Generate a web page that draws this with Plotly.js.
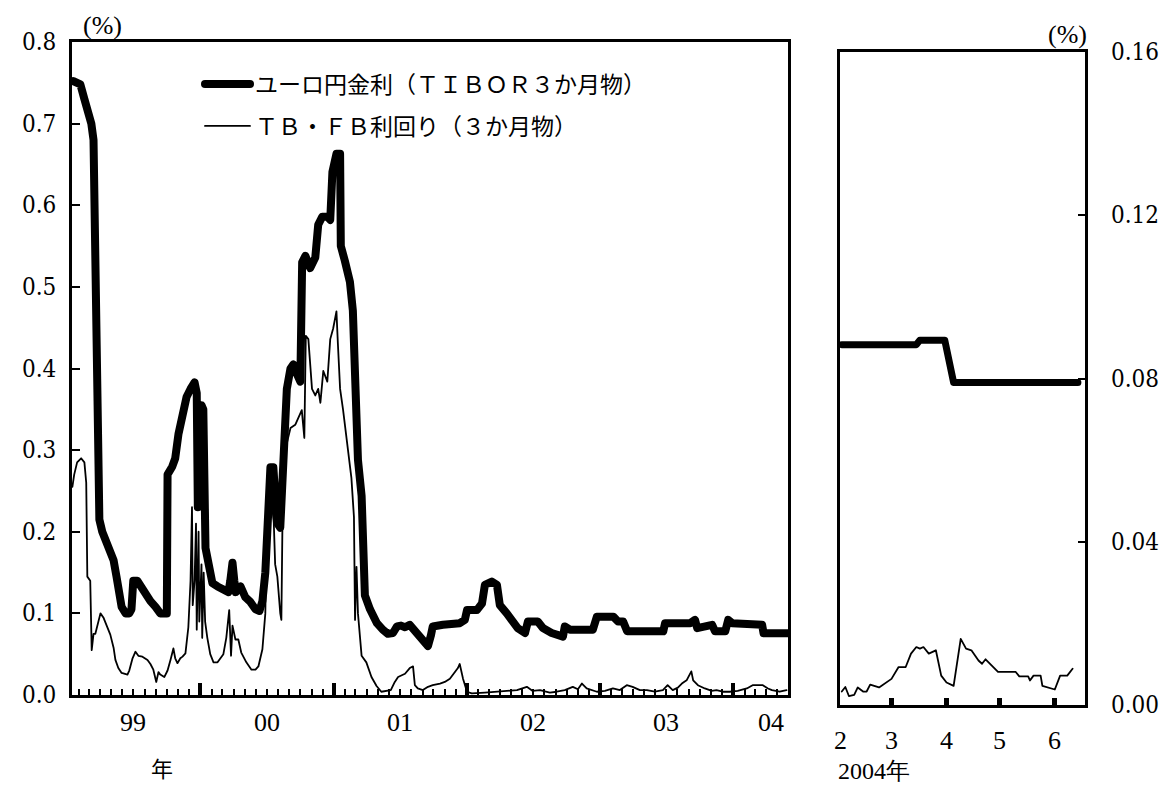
<!DOCTYPE html>
<html>
<head>
<meta charset="utf-8">
<script src="https://cdn.plot.ly/plotly-3.0.1.min.js"></script>
<style>
  html, body { margin: 0; padding: 0; background: #fff; }
  #chart { width: 1165px; height: 785px; }
  path.js-line { stroke-linejoin: round; stroke-linecap: round; }
</style>
</head>
<body>
<div id="chart"></div>
<script>
// ---------------- data ----------------
const seriesNames = ['ユーロ円金利（ＴＩＢＯＲ３か月物）', 'ＴＢ・ＦＢ利回り（３か月物）'];

// Left panel: Euro-yen TIBOR 3M (%)
const tiborDates = ['1999-01-18','1999-02-06','1999-02-17','1999-02-28','1999-03-08','1999-03-14','1999-03-17','1999-03-19','1999-03-22','1999-03-25','1999-03-30','1999-04-07','1999-04-18','1999-04-29','1999-05-08','1999-05-16','1999-05-21','1999-05-30','1999-06-10','1999-06-20','1999-06-26','1999-07-01','1999-07-12','1999-07-21','1999-08-03','1999-08-17','1999-08-31','1999-09-13','1999-10-01','1999-10-03','1999-10-16','1999-10-24','1999-11-02','1999-11-13','1999-11-24','1999-12-05','1999-12-16','1999-12-22','1999-12-25','1999-12-29','2000-01-04','2000-01-09','2000-01-15','2000-01-23','2000-02-03','2000-02-17','2000-03-04','2000-03-18','2000-03-23','2000-03-29','2000-04-03','2000-04-07','2000-04-20','2000-05-03','2000-05-17','2000-05-31','2000-06-11','2000-06-19','2000-06-27','2000-07-03','2000-07-11','2000-07-19','2000-07-29','2000-08-07','2000-08-15','2000-08-25','2000-09-04','2000-09-12','2000-09-23','2000-10-01','2000-10-06','2000-10-15','2000-10-28','2000-11-11','2000-11-19','2000-11-30','2000-12-14','2000-12-22','2000-12-28','2001-01-08','2001-01-18','2001-01-20','2001-01-31','2001-02-14','2001-02-22','2001-02-28','2001-03-08','2001-03-18','2001-03-27','2001-04-10','2001-04-29','2001-05-15','2001-05-29','2001-06-12','2001-06-23','2001-07-04','2001-07-15','2001-07-28','2001-08-08','2001-08-22','2001-09-05','2001-09-16','2001-09-24','2001-09-29','2001-10-27','2001-12-12','2001-12-26','2002-01-01','2002-01-28','2002-02-11','2002-02-19','2002-03-10','2002-03-24','2002-04-01','2002-04-20','2002-05-04','2002-05-20','2002-06-09','2002-06-17','2002-07-14','2002-07-28','2002-08-21','2002-09-07','2002-09-21','2002-09-26','2002-10-10','2002-12-12','2002-12-23','2003-02-06','2003-02-19','2003-03-05','2003-03-16','2003-06-23','2003-06-28','2003-09-05','2003-09-18','2003-09-24','2003-11-04','2003-11-12','2003-12-10','2003-12-18','2003-12-29','2004-03-20','2004-03-24','2004-05-30'];
const tiborValues = [0.752,0.748,0.73,0.715,0.70,0.68,0.60,0.45,0.33,0.25,0.215,0.20,0.185,0.175,0.165,0.145,0.125,0.108,0.10,0.10,0.105,0.14,0.14,0.133,0.123,0.115,0.108,0.10,0.10,0.27,0.28,0.29,0.32,0.345,0.365,0.375,0.383,0.37,0.23,0.24,0.355,0.35,0.18,0.16,0.137,0.133,0.128,0.126,0.14,0.162,0.14,0.126,0.133,0.12,0.114,0.105,0.103,0.115,0.15,0.23,0.279,0.279,0.211,0.205,0.30,0.375,0.40,0.405,0.392,0.384,0.53,0.538,0.523,0.536,0.576,0.586,0.586,0.582,0.641,0.663,0.663,0.55,0.532,0.506,0.471,0.397,0.288,0.244,0.122,0.105,0.088,0.08,0.075,0.076,0.084,0.085,0.083,0.086,0.08,0.072,0.063,0.06,0.073,0.084,0.086,0.088,0.092,0.104,0.104,0.112,0.135,0.139,0.135,0.11,0.10,0.09,0.082,0.076,0.09,0.09,0.082,0.076,0.0735,0.0715,0.084,0.08,0.08,0.096,0.096,0.09,0.09,0.078,0.078,0.088,0.088,0.092,0.082,0.086,0.078,0.078,0.092,0.088,0.086,0.0756,0.0756];

// Left panel: TB/FB yield 3M (%)
const tbDates = ['1999-01-15','1999-01-20','1999-01-28','1999-02-08','1999-02-17','1999-02-22','1999-02-25','1999-03-05','1999-03-09','1999-03-14','1999-03-19','1999-04-02','1999-04-10','1999-04-21','1999-04-29','1999-05-08','1999-05-13','1999-05-21','1999-05-30','1999-06-15','1999-06-20','1999-06-29','1999-07-07','1999-07-15','1999-07-26','1999-08-09','1999-08-17','1999-08-25','1999-09-02','1999-09-08','1999-09-13','1999-09-24','1999-10-03','1999-10-11','1999-10-19','1999-10-24','1999-10-30','1999-11-07','1999-11-13','1999-11-21','1999-11-29','1999-12-05','1999-12-09','1999-12-11','1999-12-16','1999-12-20','1999-12-22','1999-12-27','1999-12-29','2000-01-04','2000-01-06','2000-01-10','2000-01-14','2000-01-20','2000-01-28','2000-02-06','2000-02-17','2000-02-25','2000-03-04','2000-03-12','2000-03-20','2000-03-25','2000-03-29','2000-04-06','2000-04-14','2000-04-22','2000-05-06','2000-05-20','2000-05-31','2000-06-08','2000-06-19','2000-06-27','2000-07-01','2000-07-11','2000-07-16','2000-07-20','2000-07-24','2000-07-30','2000-08-07','2000-08-10','2000-08-15','2000-08-25','2000-09-04','2000-09-17','2000-09-26','2000-10-05','2000-10-12','2000-10-16','2000-10-23','2000-11-02','2000-11-11','2000-11-19','2000-11-25','2000-12-03','2000-12-14','2000-12-22','2000-12-30','2001-01-08','2001-01-12','2001-01-18','2001-01-26','2001-01-31','2001-02-09','2001-02-18','2001-02-25','2001-02-28','2001-03-04','2001-03-08','2001-03-18','2001-03-31','2001-04-14','2001-04-28','2001-05-11','2001-05-26','2001-06-06','2001-06-17','2001-06-26','2001-07-15','2001-07-28','2001-08-06','2001-08-11','2001-08-19','2001-09-02','2001-09-16','2001-09-29','2001-10-19','2001-11-01','2001-11-15','2001-11-23','2001-12-07','2001-12-12','2001-12-21','2002-01-01','2002-01-14','2002-02-19','2002-04-01','2002-04-28','2002-05-18','2002-06-14','2002-06-30','2002-07-20','2002-08-16','2002-09-04','2002-09-26','2002-10-18','2002-11-01','2002-11-12','2002-11-25','2002-12-23','2003-01-14','2003-02-05','2003-02-24','2003-03-15','2003-03-31','2003-04-20','2003-05-09','2003-05-31','2003-06-22','2003-07-05','2003-07-19','2003-08-02','2003-08-13','2003-08-26','2003-09-08','2003-09-13','2003-09-26','2003-10-15','2003-11-03','2003-11-16','2003-12-03','2003-12-22','2004-01-13','2004-02-07','2004-02-23','2004-03-22','2004-04-05','2004-04-16','2004-05-07','2004-05-26'];
const tbValues = [0.255,0.27,0.285,0.29,0.285,0.26,0.145,0.14,0.055,0.075,0.075,0.10,0.095,0.082,0.074,0.058,0.043,0.033,0.027,0.025,0.03,0.045,0.053,0.048,0.047,0.043,0.038,0.031,0.016,0.028,0.025,0.022,0.03,0.043,0.057,0.045,0.039,0.045,0.047,0.051,0.083,0.14,0.23,0.11,0.14,0.21,0.08,0.20,0.09,0.16,0.07,0.15,0.09,0.07,0.05,0.04,0.04,0.045,0.05,0.07,0.104,0.048,0.085,0.068,0.068,0.052,0.04,0.031,0.031,0.035,0.056,0.10,0.207,0.248,0.23,0.214,0.16,0.145,0.10,0.092,0.29,0.31,0.327,0.331,0.34,0.349,0.315,0.44,0.436,0.375,0.367,0.375,0.358,0.397,0.384,0.436,0.449,0.47,0.43,0.375,0.35,0.331,0.297,0.266,0.218,0.092,0.157,0.10,0.048,0.04,0.022,0.011,0.004,0.005,0.006,0.016,0.022,0.026,0.033,0.035,0.012,0.008,0.006,0.01,0.012,0.014,0.016,0.02,0.025,0.033,0.038,0.02,0.004,0.002,0.003,0.004,0.005,0.006,0.01,0.005,0.006,0.003,0.004,0.006,0.01,0.007,0.014,0.008,0.004,0.005,0.008,0.006,0.012,0.01,0.006,0.006,0.004,0.006,0.012,0.006,0.009,0.014,0.018,0.029,0.018,0.012,0.008,0.005,0.006,0.004,0.004,0.005,0.008,0.012,0.012,0.008,0.006,0.004,0.006];

// Right panel (Feb-Jun 2004)
const tibor04Dates = ['2004-02-02','2004-03-15','2004-03-17','2004-03-31','2004-04-05','2004-06-14'];
const tibor04Values = [0.0883,0.0883,0.0894,0.0894,0.0790,0.0790];
const tb04Dates = ['2004-02-02','2004-02-04','2004-02-06','2004-02-09','2004-02-11','2004-02-14','2004-02-16','2004-02-18','2004-02-23','2004-02-27','2004-03-01','2004-03-05','2004-03-09','2004-03-12','2004-03-15','2004-03-17','2004-03-19','2004-03-22','2004-03-26','2004-03-29','2004-04-01','2004-04-05','2004-04-07','2004-04-09','2004-04-12','2004-04-15','2004-04-19','2004-04-21','2004-04-23','2004-04-27','2004-04-30','2004-05-10','2004-05-12','2004-05-17','2004-05-18','2004-05-20','2004-05-24','2004-05-25','2004-05-28','2004-06-01','2004-06-04','2004-06-08','2004-06-11'];
const tb04Values = [0.0033,0.0044,0.0022,0.0025,0.0043,0.0033,0.0033,0.005,0.0043,0.0055,0.0064,0.0093,0.0093,0.0126,0.0142,0.0138,0.0142,0.0126,0.0134,0.0072,0.0055,0.0047,0.0105,0.0162,0.0138,0.0134,0.0109,0.0101,0.0112,0.0093,0.0081,0.0081,0.007,0.007,0.006,0.0072,0.0072,0.0047,0.0043,0.0038,0.0072,0.0072,0.0089];

// Axis tick values / labels
const leftYTicks = [0, 0.1, 0.2, 0.3, 0.4, 0.5, 0.6, 0.7, 0.8];
const leftYLabels = ['0.0','0.1','0.2','0.3','0.4','0.5','0.6','0.7','0.8'];
const rightYTicks = [0, 0.04, 0.08, 0.12, 0.16];
const rightYLabels = ['0.00','0.04','0.08','0.12','0.16'];
const yearLabelDates = ['1999-07-01','2000-07-01','2001-07-01','2002-07-01','2003-07-01','2004-04-14'];
const yearLabels = ['99','00','01','02','03','04'];
const monthTickDates = ['2004-02-01','2004-03-01','2004-04-01','2004-05-01','2004-06-01'];
const monthLabels = ['2','3','4','5','6'];
const leftRange = ['1999-01-14','2004-05-30'];
const rightRange = ['2004-02-01','2004-06-18'];

// ---------------- chart ----------------
const W = 1165, H = 785;
const px = v => v / W;
const py = v => 1 - v / H;

const SERIF_NUM = 'DejaVu Serif Condensed';
const SERIF = 'Liberation Serif';
const CJK = 'Noto Sans CJK JP';

const traces = [
  {x: tiborDates, y: tiborValues, xaxis: 'x', yaxis: 'y', type: 'scatter', mode: 'lines',
   name: seriesNames[0], legend: 'legend', line: {color: '#000', width: 8}, hoverinfo: 'skip'},
  {x: tbDates, y: tbValues, xaxis: 'x', yaxis: 'y', type: 'scatter', mode: 'lines',
   name: seriesNames[1], legend: 'legend2', line: {color: '#000', width: 1.8}, hoverinfo: 'skip'},
  {x: tibor04Dates, y: tibor04Values, xaxis: 'x2', yaxis: 'y2', type: 'scatter', mode: 'lines',
   name: seriesNames[0], showlegend: false, line: {color: '#000', width: 7}, hoverinfo: 'skip'},
  {x: tb04Dates, y: tb04Values, xaxis: 'x2', yaxis: 'y2', type: 'scatter', mode: 'lines',
   name: seriesNames[1], showlegend: false, line: {color: '#000', width: 1.8}, hoverinfo: 'skip'}
];

function frame(extra) {
  return Object.assign({showline: true, linecolor: '#000', linewidth: 3, mirror: true,
                        showgrid: false, zeroline: false, showticklabels: false}, extra);
}

// tick labels drawn as annotations placed through the axes' own scales
function label(text, xref, x, yref, y, xanchor, family, size) {
  return {text: text, xref: xref, x: x, yref: yref, y: y, showarrow: false,
          xanchor: xanchor, yanchor: 'middle', font: {family: family, size: size, color: '#000'}};
}
const tickAnnotations = []
  .concat(leftYTicks.map((v, i) => label(leftYLabels[i], 'paper', px(58), 'y', v, 'right', SERIF_NUM, 24)))
  .concat(rightYTicks.map((v, i) => label(rightYLabels[i], 'paper', px(1109), 'y2', v, 'left', SERIF_NUM, 24)))
  .concat(yearLabelDates.map((d, i) => label(yearLabels[i], 'x', d, 'paper', py(722), 'center', SERIF, 26)))
  .concat(monthTickDates.map((d, i) => label(monthLabels[i], 'x2', d, 'paper', py(740), 'center', SERIF, 26)));

const layout = {
  width: W, height: H,
  margin: {l: 0, r: 0, t: 0, b: 0},
  paper_bgcolor: '#fff', plot_bgcolor: '#fff',
  font: {family: SERIF, size: 24, color: '#000'},
  showlegend: true,
  xaxis: frame({
    domain: [px(72), px(788)], anchor: 'y', type: 'date', range: leftRange,
    tickmode: 'linear', tick0: '2000-01-01', dtick: 'M12',
    ticks: 'inside', ticklen: 12, tickwidth: 4, tickcolor: '#000',
    minor: {ticks: 'inside', dtick: 'M1', tick0: '2000-01-01', ticklen: 6, tickwidth: 2, tickcolor: '#000', showgrid: false}
  }),
  yaxis: frame({
    domain: [1 - 695 / H, 1 - 42 / H], anchor: 'x', range: [0, 0.8],
    tickmode: 'array', tickvals: leftYTicks,
    ticks: 'inside', ticklen: 8, tickwidth: 2, tickcolor: '#000'
  }),
  xaxis2: frame({
    domain: [px(840), px(1085)], anchor: 'y2', type: 'date', range: rightRange,
    tickmode: 'array', tickvals: monthTickDates,
    ticks: 'inside', ticklen: 7, tickwidth: 5, tickcolor: '#000'
  }),
  yaxis2: frame({
    domain: [1 - 705 / H, 1 - 52 / H], anchor: 'x2', side: 'right', range: [0, 0.16],
    tickmode: 'array', tickvals: rightYTicks,
    ticks: 'inside', ticklen: 7, tickwidth: 2, tickcolor: '#000'
  }),
  legend: {
    x: px(200), y: py(84), xanchor: 'left', yanchor: 'middle',
    bgcolor: 'rgba(0,0,0,0)', borderwidth: 0, itemwidth: 45,
    font: {family: CJK, size: 23, color: '#000'}
  },
  legend2: {
    x: px(200), y: py(126), xanchor: 'left', yanchor: 'middle',
    bgcolor: 'rgba(0,0,0,0)', borderwidth: 0, itemwidth: 45,
    font: {family: CJK, size: 23, color: '#000'}
  },
  annotations: tickAnnotations.concat([
    {text: '(%)', xref: 'paper', yref: 'paper', x: px(102), y: py(26), showarrow: false,
     xanchor: 'center', yanchor: 'middle', font: {family: SERIF, size: 26, color: '#000'}},
    {text: '(%)', xref: 'paper', yref: 'paper', x: px(1067), y: py(35), showarrow: false,
     xanchor: 'center', yanchor: 'middle', font: {family: SERIF, size: 26, color: '#000'}},
    {text: '年', xref: 'paper', yref: 'paper', x: px(162), y: py(767), showarrow: false,
     xanchor: 'center', yanchor: 'middle', font: {family: CJK, size: 22, color: '#000'}},
    {text: '2004年', xref: 'paper', yref: 'paper', x: px(836), y: py(771), showarrow: false,
     xanchor: 'left', yanchor: 'middle', font: {family: SERIF, size: 24, color: '#000'}}
  ])
};

Plotly.newPlot('chart', traces, layout, {staticPlot: true, displayModeBar: false});
</script>
</body>
</html>
